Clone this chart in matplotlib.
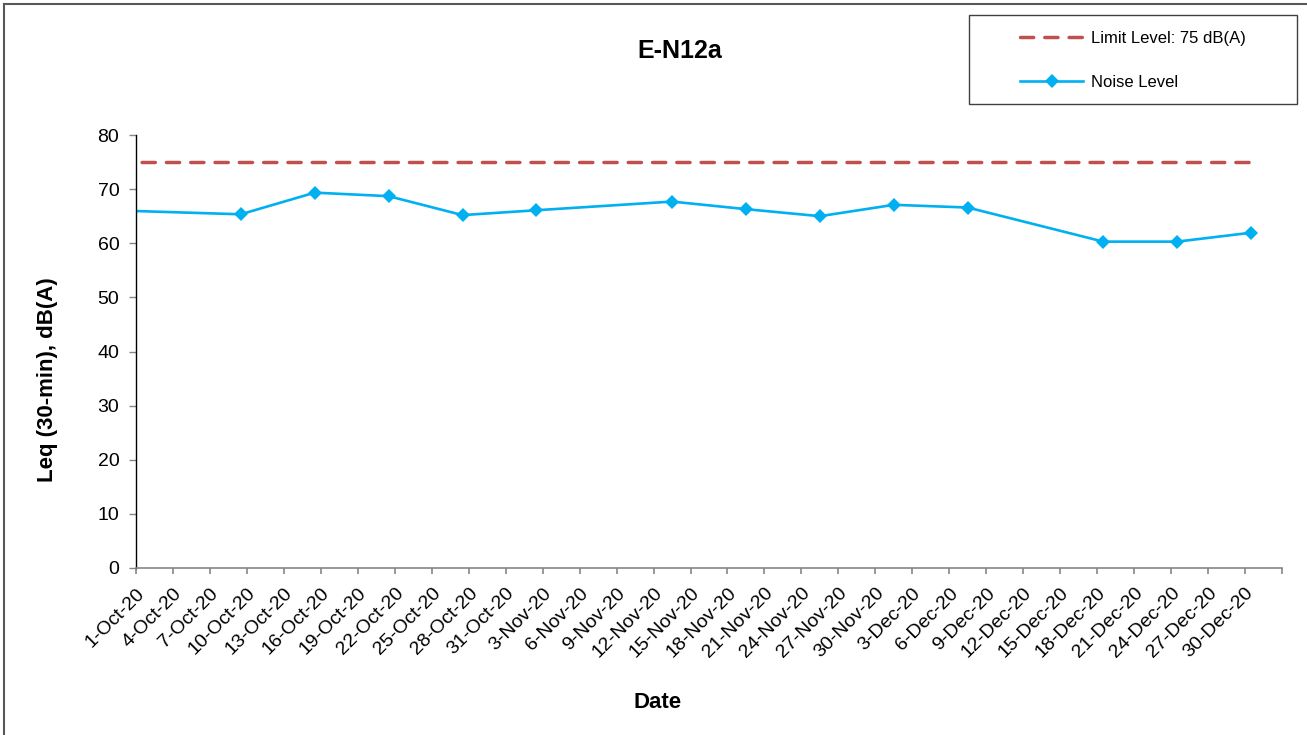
import matplotlib
matplotlib.use('Agg')
import matplotlib.pyplot as plt
import matplotlib.dates as mdates
from matplotlib.lines import Line2D
from matplotlib.patches import Rectangle
import datetime as dt

plt.rcParams['font.family'] = ['Liberation Sans', 'DejaVu Sans']

# ---- data ----
title = 'E-N12a'
dates = ['2020-09-27', '2020-10-09', '2020-10-15', '2020-10-21', '2020-10-27',
         '2020-11-02', '2020-11-13', '2020-11-19', '2020-11-25', '2020-12-01',
         '2020-12-07', '2020-12-18', '2020-12-24', '2020-12-30']
noise = [66.2, 65.35, 69.35, 68.7, 65.2, 66.1, 67.7, 66.3, 65.0, 67.1,
         66.6, 60.3, 60.3, 61.95]
limit = [75] * len(dates)
limit_label = 'Limit Level: 75 dB(A)'
noise_label = 'Noise Level'
axis_start = '2020-10-01'
axis_end = '2021-01-02'
tick_step_days = 3
y_ticks = [0, 10, 20, 30, 40, 50, 60, 70, 80]

W, H = 1307, 735
fig = plt.figure(figsize=(W / 100, H / 100), dpi=100)
ax = fig.add_axes([136 / W, 1 - 568 / H, (1282 - 136) / W, (568 - 135) / H])

# points sit in the middle of each day (Excel date axis, between tick marks)
x = [mdates.date2num(dt.datetime.fromisoformat(d)) + 0.5 for d in dates]

ax.plot(x, limit, color='#C0504D', lw=2.5, linestyle=(0, (3.8, 3.2)),
        solid_capstyle='butt', dash_capstyle='round')
ax.plot(x, noise, color='#00B0F0', lw=1.9, marker='D', markersize=7.4,
        markeredgewidth=0)

x0 = mdates.date2num(dt.datetime.fromisoformat(axis_start))
x1 = mdates.date2num(dt.datetime.fromisoformat(axis_end))
ax.set_xlim(x0, x1)
ax.set_ylim(0, 80)

tick_dates = []
d = dt.datetime.fromisoformat(axis_start)
while d <= dt.datetime.fromisoformat(axis_end):
    tick_dates.append(d)
    d += dt.timedelta(days=tick_step_days)
tick_labels = [f"{t.day}-{t.strftime('%b')}-{t.strftime('%y')}" for t in tick_dates]
tick_labels[-1] = ''
ax.set_xticks([mdates.date2num(t) for t in tick_dates])
ax.set_xticklabels(tick_labels, rotation=45, ha='right', rotation_mode='anchor',
                   fontsize=14)
ax.set_yticks(y_ticks)
ax.set_yticklabels([str(v) for v in y_ticks], fontsize=14)

for s in ['top', 'right']:
    ax.spines[s].set_visible(False)
ax.spines['left'].set_color('#000000')
ax.spines['left'].set_linewidth(1.0)
ax.spines['bottom'].set_color('#868686')
ax.spines['bottom'].set_linewidth(1.2)
ax.tick_params(axis='y', direction='out', length=5, width=1, color='#868686', pad=7)
ax.tick_params(axis='x', direction='out', length=4, width=1.2, color='#868686', pad=8)

fig.text(680 / W, 1 - 51 / H, title, ha='center', va='center',
         fontsize=18, fontweight='bold')
fig.text(658 / W, 1 - 703 / H, 'Date', ha='center', va='center',
         fontsize=16, fontweight='bold')
fig.text(48 / W, 1 - 380 / H, 'Leq (30-min), dB(A)', ha='center', va='center',
         rotation=90, fontsize=16, fontweight='bold')

# legend
handles = [Line2D([], [], color='#C0504D', lw=2.5, linestyle=(0, (3.8, 3.2)),
                  dash_capstyle='round'),
           Line2D([], [], color='#00B0F0', lw=1.9, marker='D', markersize=7.4,
                  markeredgewidth=0)]
leg = fig.legend(handles, [limit_label, noise_label], loc='upper left',
                 bbox_to_anchor=(1020 / W, 1 - 31 / H), frameon=False,
                 fontsize=12, handlelength=3.8, handletextpad=0.45,
                 labelspacing=1.75, borderpad=0, borderaxespad=0)
fig.patches.append(Rectangle((969 / W, 1 - 104 / H), 328 / W, 89 / H,
                             transform=fig.transFigure, fill=False,
                             edgecolor='#404040', lw=1.0))

# outer chart border (left and top visible)
fig.add_artist(Line2D([3.5 / W, 3.5 / W], [0, 1 - 3.5 / H], transform=fig.transFigure,
                      color='#595959', lw=1.5))
fig.add_artist(Line2D([3.5 / W, 1], [1 - 3.5 / H, 1 - 3.5 / H], transform=fig.transFigure,
                      color='#595959', lw=1.5))

fig.savefig('out.png', dpi=100)
